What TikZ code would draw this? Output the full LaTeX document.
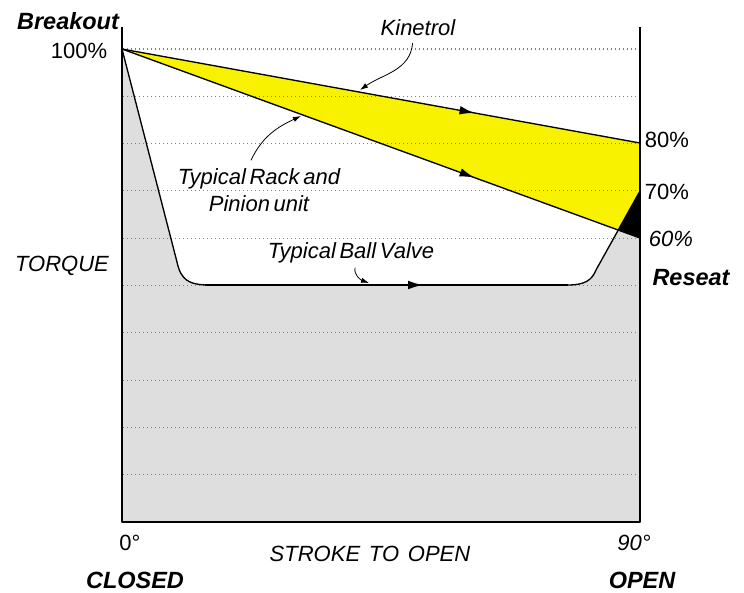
\documentclass[tikz,border=0pt]{standalone}
\usepackage{fontspec}
\setmainfont[WordSpace=0.6]{Liberation Sans}
\usetikzlibrary{arrows.meta, decorations.markings}

\definecolor{valvegray}{HTML}{DEDEDE}
\definecolor{kinyellow}{HTML}{F8F200}
\def\valvearea{(122,49) -- (177,262) .. controls (181,281) and (190,284) .. (205,285)
  -- (568,285) .. controls (585,285) and (592,280) .. (596,270) -- (640,191)
  -- (640,522) -- (122,522) -- cycle}
\def\actwedge{(122,49) -- (640,143) -- (640,238) -- cycle}

\tikzset{
  lbl/.style={inner sep=0pt, font=\fontsize{16.5}{20}\selectfont},
  ilbl/.style={inner sep=0pt, font=\fontsize{16.5}{20}\selectfont\itshape},
  blbl/.style={inner sep=0pt, font=\fontsize{17.6}{20}\selectfont\bfseries\itshape},
  gridline/.style={gray, line width=0.8pt, dash pattern=on 0.75pt off 2.25pt},
  midarrow/.style={postaction={decorate, decoration={markings,
      mark=at position #1 with {\arrow{Latex[length=11pt,width=6.5pt]}}}}},
  leader/.style={line width=0.6pt, -{Latex[length=6pt,width=4pt]}},
}

\begin{document}
\begin{tikzpicture}[x=0.75pt, y=-0.75pt, line join=round]
\useasboundingbox (0,0) rectangle (744,593);

% torque areas
\fill[valvegray] \valvearea;
\fill[kinyellow] \actwedge;
\begin{scope}
  \clip \valvearea;
  \fill[black] \actwedge;
\end{scope}

\foreach \k in {1,...,10}
  \draw[gridline] (123,{522-47.3*\k}) -- (639,{522-47.3*\k});

\coordinate (brk) at (122,49);
\coordinate (kin80) at (640,143);
\coordinate (rp60) at (640,238);
\coordinate (bv70) at (640,191);

% curves
\draw[line width=1pt, midarrow=0.68] (brk) -- (kin80);
\draw[line width=1pt, midarrow=0.68] (brk) -- (rp60);
\draw[line width=1pt] (brk) -- (177,262) .. controls (181,281) and (190,284) .. (205,285)
  -- (568,285) .. controls (585,285) and (592,280) .. (596,270) -- (bv70);
\draw[line width=1pt, midarrow=0.6] (205,285) -- (568,285);

% axes
\draw[line width=1.3pt] (122,27) -- (122,522) -- (640,522) -- (640,27);

% labels
\node[blbl] (breakout) at (68,21) {Breakout};
\node[lbl] (p100) at (79,51) {100\%};
\node[ilbl] (torque) at (62,266) {TORQUE};
\node[lbl] (p80) at (667,140) {80\%};
\node[lbl] (p70) at (667,192) {70\%};
\node[ilbl] (p60) at (671,239) {60\%};
\node[blbl] (reseat) at (691,278) {Reseat};
\node[lbl] (deg0) at (130,543) {0°};
\node[ilbl] (deg90) at (634,543) {90°};
\node[ilbl] (stroke) at (370,554) {STROKE\hspace{0.4em}TO\hspace{0.4em}OPEN};
\node[blbl] (closed) at (135,580) {CLOSED};
\node[blbl] (open) at (642,580) {OPEN};

\node[ilbl] (kin) at (418,28) {Kinetrol};
\node[ilbl, align=center] (rack) at (259,190) {Typical Rack and\\Pinion unit};
\node[ilbl] (bv) at (351,253) {Typical Ball Valve};

\coordinate (kintip) at (360,90);
\coordinate (racktip) at (301,116);
\coordinate (bvtip) at (369,283);

\draw[leader] ([xshift=-4pt,yshift=-5pt]kin.south) to[out=-95,in=35] (kintip);
\draw[leader] ([xshift=-6pt,yshift=6pt]rack.north) to[out=65,in=205] (racktip);
\draw[leader] ([xshift=3pt,yshift=-3pt]bv.south) to[out=-100,in=160] (bvtip);
\end{tikzpicture}
\end{document}
